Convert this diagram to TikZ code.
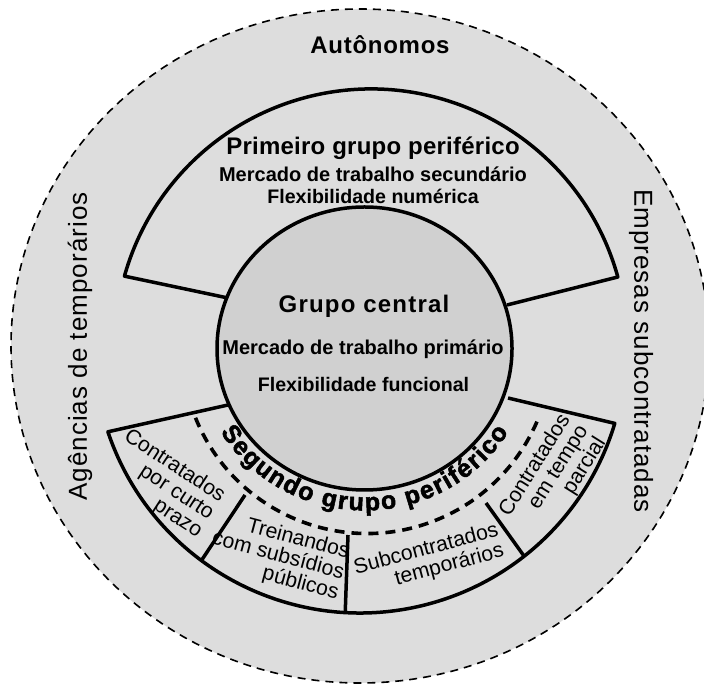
\documentclass[tikz,border=0pt]{standalone}
\usepackage{fontspec}
\setmainfont{Liberation Sans}
\newfontfamily\heavyfont[FakeBold=2]{Liberation Sans Bold}
\usetikzlibrary{decorations.text}
\definecolor{ringgray}{RGB}{221,221,221}
\definecolor{coregray}{RGB}{208,208,208}
\newcommand{\segfont}{\heavyfont\fontsize{12.5}{12.5}\selectfont}
\tikzset{
  wall/.style={line width=1.75pt, line join=round},
  lbl/.style={inner sep=0pt, anchor=base},
  side/.style={inner sep=0pt, font=\fontsize{13}{15}\selectfont\addfontfeatures{LetterSpace=4}},
  cell/.style={inner sep=0pt, align=right, font=\fontsize{10.6}{10.5}\selectfont}
}

\begin{document}
\begin{tikzpicture}[x=0.5pt,y=0.5pt]
\useasboundingbox (0,0) rectangle (704,684);
\clip (0,0) rectangle (704,684);

%Shape: Ellipse [outer ring]
\fill[ringgray] (360,338) ellipse [x radius=349, y radius=337];
\draw[line width=0.8pt, dash pattern=on 4pt off 3pt] (360,338) ellipse [x radius=349, y radius=337];

%Shape: Arc [first peripheral group]
\draw[wall] (507,379) -- (617.8,407) arc [start angle=15.4, end angle=164.4, radius=256] -- (228,386);

%Shape: Arc [second peripheral group]
\draw[wall] (228,279) -- (107.9,252.2) arc [start angle=198.6, end angle=343.3, radius=266] -- (508,286);
%Straight Lines [dividers]
\draw[wall] (245,189) -- (201.4,123.5);
\draw[wall] (348,149) -- (345.2,71.4);
\draw[wall] (486,181) -- (524.2,127.7);

%Curve Lines [dashed arc]
\draw[line width=1.8pt, dash pattern=on 5pt off 3.5pt] (195.5,266.2) arc [start angle=202, end angle=337, radius=185];

%Shape: Ellipse [core]
\filldraw[wall, fill=coregray] (364.5,335.5) ellipse [x radius=147.5, y radius=141.5];

% Text Node
\draw (380,630) node (autonomos) [lbl, font=\bfseries\fontsize{12}{14}\selectfont\addfontfeatures{LetterSpace=3}] {Autônomos};
% Text Node
\draw (80,337.5) node (agencias) [side, rotate=90] {Agências de temporários};
% Text Node
\draw (641,333) node (empresas) [side, rotate=-90] {Empresas subcontratadas};

% Text Node
\draw (373,529) node (primeiro) [lbl, font=\bfseries\fontsize{12}{14}\selectfont\addfontfeatures{LetterSpace=1}] {Primeiro grupo periférico};
% Text Node
\draw (373,502) node (secundario) [lbl, font=\bfseries\fontsize{10}{12}\selectfont] {Mercado de trabalho secundário};
% Text Node
\draw (373,480) node (numerica) [lbl, font=\bfseries\fontsize{9.8}{12}\selectfont] {Flexibilidade numérica};

% Text Node
\draw (364,371) node (central) [lbl, font=\bfseries\fontsize{12}{14}\selectfont\addfontfeatures{LetterSpace=5}] {Grupo central};
% Text Node
\draw (363,329.7) node (primario) [lbl, font=\bfseries\fontsize{10}{12}\selectfont] {Mercado de trabalho primário};
% Text Node
\draw (363.5,292) node (funcional) [lbl, font=\bfseries\fontsize{9.8}{12}\selectfont] {Flexibilidade funcional};

% Text Along Path
\path[decorate, decoration={text along path, text={|\segfont|Segundo grupo periférico}, text align={fit to path}}]
  (220.5,252.1) arc [start angle=211, end angle=329, x radius=168, y radius=162];

% Text Node
\draw (163,200) node (curto) [cell, rotate=-33] {Contratados\\por curto\\prazo};
% Text Node
\draw (278,128) node (treinandos) [cell, rotate=-15] {Treinandos\\com subsídios\\públicos};
% Text Node
\draw (429,124) node (subcontr) [cell, rotate=15] {Subcontratados\\temporários};
% Text Node
\draw (553,207) node (parcial) [cell, rotate=58] {Contratados\\em tempo\\parcial};

\end{tikzpicture}
\end{document}
